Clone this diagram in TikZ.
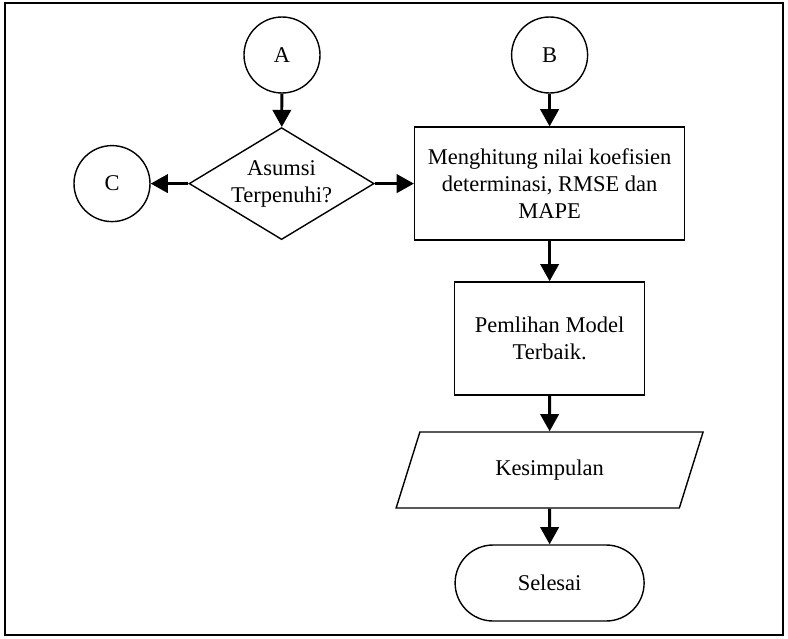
\documentclass[tikz,border=0pt]{standalone}
\usepackage{fontspec}
\setmainfont{Liberation Serif}
\usepackage{tikz}
\usetikzlibrary{arrows.meta, shapes.geometric}
\tikzset{
  konektor/.style={draw, circle, line width=1pt, minimum size=1.9cm, inner sep=0pt},
  keputusan/.style={draw, diamond, line width=1pt, aspect=1.65, minimum width=4.625cm, minimum height=2.8cm, inner sep=0pt, align=center},
  proses/.style={draw, rectangle, line width=1pt, minimum height=2.825cm, inner sep=0pt, align=center},
  masukan/.style={draw, trapezium, trapezium left angle=64, trapezium right angle=116, trapezium stretches, line width=1pt, minimum width=7.7cm, minimum height=1.9cm, inner sep=0pt},
  akhir/.style={draw, rectangle, rounded corners=0.95cm, line width=1pt, minimum width=4.725cm, minimum height=1.9cm},
  panah/.style={->, >={Triangle[width=0.46cm,length=0.43cm]}, line width=2pt}
}

\begin{document}
\begin{tikzpicture}[font=\fontsize{16}{19.2}\selectfont]

\useasboundingbox (0,0) rectangle (19.7,15.95);
\draw[line width=1.2pt] (0.125,0.075) rectangle (19.575,15.875);

\node[konektor] (A) at (7.05,14.575) {A};
\node[konektor] (B) at (13.74,14.575) {B};
\node[konektor] (C) at (2.8,11.36) {C};
\node[keputusan] (asumsi) at (7.04,11.36) {Asumsi\\Terpenuhi?};
\node[proses, minimum width=6.75cm] (hitung) at (13.74,11.36) {Menghitung nilai koefisien\\determinasi, RMSE dan\\MAPE};
\node[proses, minimum width=4.75cm] (pilih) at (13.74,7.49) {Pemlihan Model\\Terbaik.};
\node[masukan] (simpul) at (13.74,4.2) {Kesimpulan};
\node[akhir] (selesai) at (13.74,1.375) {Selesai};

\draw[panah] (A) -- (asumsi);
\draw[panah] (B) -- (hitung);
\draw[panah] (asumsi) -- (C);
\draw[panah] (asumsi) -- (hitung);
\draw[panah] (hitung) -- (pilih);
\draw[panah] (pilih) -- (simpul);
\draw[panah] (simpul) -- (selesai);
\end{tikzpicture}
\end{document}
